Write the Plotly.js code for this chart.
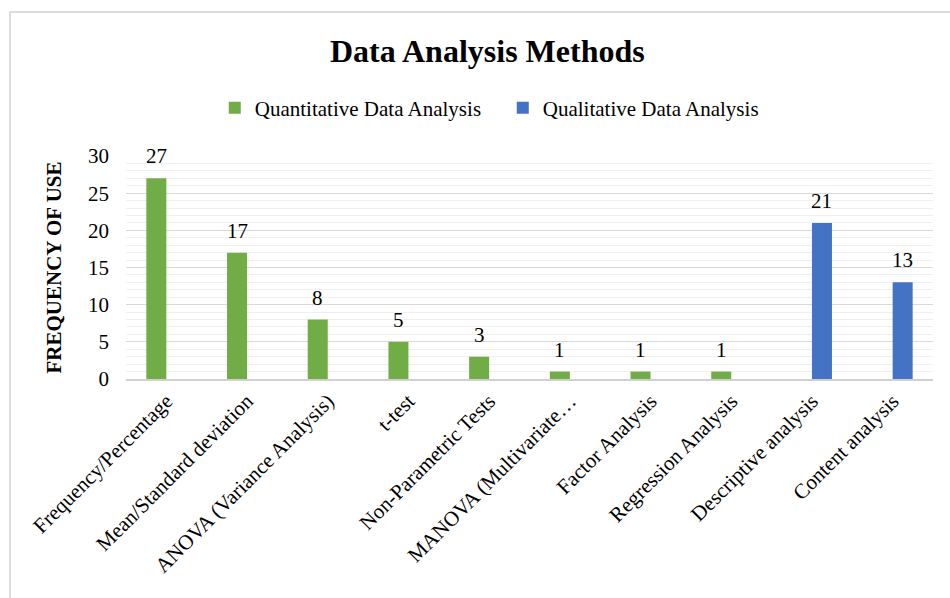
<!DOCTYPE html>
<html>
<head>
<meta charset="utf-8">
<script src="https://cdn.plot.ly/plotly-3.0.1.min.js"></script>
<style>
  html, body { margin: 0; padding: 0; background: #fff; }
  #wrap { position: relative; width: 950px; height: 598px; }
  #chart { position: absolute; left: 0; top: 0; width: 950px; height: 598px; }
  #frame { position: absolute; left: 9px; top: 11px; width: 945px; height: 600px;
           border-left: 2px solid #DCDCDC; border-top: 2px solid #DCDCDC; pointer-events: none; }
</style>
</head>
<body>
<div id="wrap">
  <div id="chart"></div>
  <div id="frame"></div>
</div>
<script>
const categories = [
  "Frequency/Percentage",
  "Mean/Standard deviation",
  "ANOVA (Variance Analysis)",
  "t-test",
  "Non-Parametric Tests",
  "MANOVA (Multivariate…",
  "Factor Analysis",
  "Regression Analysis",
  "Descriptive analysis",
  "Content analysis"
];
const quantitative = [27, 17, 8, 5, 3, 1, 1, 1, null, null];
const qualitative  = [null, null, null, null, null, null, null, null, 21, 13];
const seriesNames = ["Quantitative Data Analysis", "Qualitative Data Analysis"];
const seriesColors = ["#70AD47", "#4472C4"];
const yTicks = [0, 5, 10, 15, 20, 25, 30];

const FONT = '"Liberation Serif", "Times New Roman", serif';

const traces = [
  { type: 'bar', name: seriesNames[0], x: categories, y: quantitative,
    marker: { color: seriesColors[0] }, hoverinfo: 'x+y' },
  { type: 'bar', name: seriesNames[1], x: categories, y: qualitative,
    marker: { color: seriesColors[1] }, hoverinfo: 'x+y' }
];

const annotations = [];
[quantitative, qualitative].forEach((vals, si) => {
  vals.forEach((v, i) => {
    if (v === null) return;
    annotations.push({
      x: categories[i], y: v, xref: 'x', yref: 'y',
      text: String(v), showarrow: false,
      xanchor: 'center', yanchor: 'bottom',
      xshift: si === 0 ? -10 : 10, yshift: 8,
      font: { family: FONT, size: 21, color: '#000' }
    });
  });
});

const layout = {
  width: 950, height: 598,
  margin: { l: 126, r: 17, t: 156, b: 219, pad: 0 },
  paper_bgcolor: '#fff', plot_bgcolor: '#fff',
  font: { family: FONT, size: 21, color: '#000' },
  title: { text: '<b>Data Analysis Methods</b>', x: 0.513, xref: 'container', xanchor: 'center',
           y: 0.915, yref: 'container', yanchor: 'middle',
           font: { family: FONT, size: 32, color: '#000' } },
  barmode: 'group', bargap: 0.504, bargroupgap: 0,
  showlegend: true,
  legend: { orientation: 'h', x: 0.11, xanchor: 'left', y: 1.215, yanchor: 'middle',
            font: { family: FONT, size: 21, color: '#000' }, entrywidth: 243,
            bgcolor: 'rgba(0,0,0,0)', traceorder: 'normal' },
  xaxis: { type: 'category', tickangle: -45, showgrid: false, zeroline: false,
           showline: true, linecolor: '#D0D0D0', linewidth: 1.5, ticks: '',
           tickfont: { family: FONT, size: 21, color: '#000' }, automargin: false },
  yaxis: { range: [0, 30], tickvals: yTicks, ticktext: yTicks.map(String),
           showgrid: true, gridcolor: '#D9D9D9', gridwidth: 1,
           minor: { dtick: 1, showgrid: true, gridcolor: '#F0F0F0', gridwidth: 1, ticks: '' },
           zeroline: false, showline: false, ticks: '', ticklabelstandoff: 16,
           tickfont: { family: FONT, size: 21, color: '#000' }, automargin: false,
           title: { text: '\u00a0\u00a0<b>FREQUENCY OF USE</b>', standoff: 20,
                    font: { family: FONT, size: 21, color: '#000' } } },
  annotations: annotations
};

Plotly.newPlot('chart', traces, layout, { displayModeBar: false, staticPlot: true });
</script>
</body>
</html>
